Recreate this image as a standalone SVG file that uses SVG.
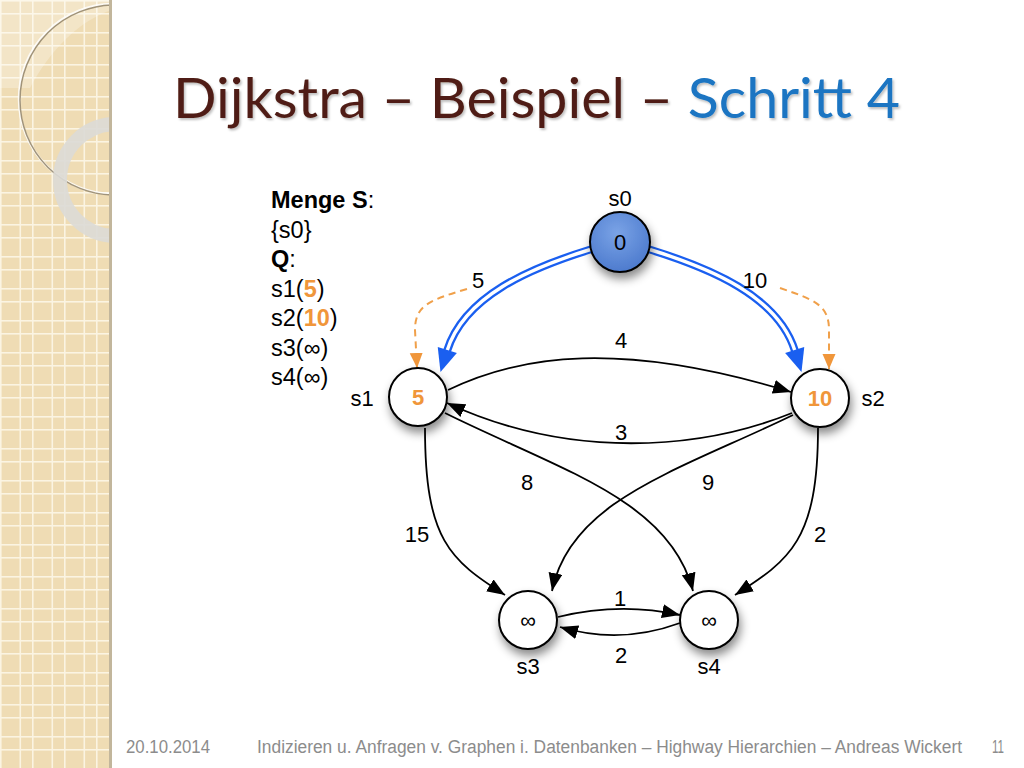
<svg xmlns="http://www.w3.org/2000/svg" width="1024" height="768" viewBox="0 0 1024 768">
<defs>
  <pattern id="grid" x="0" y="0" width="32" height="32" patternUnits="userSpaceOnUse">
    <rect width="32" height="32" fill="#efdcb4"/>
    <rect x="0" y="0" width="1.6" height="32" fill="#fbf4e2"/>
    <rect x="19.5" y="0" width="1.6" height="32" fill="#fbf4e2"/>
    <rect x="0" y="0" width="32" height="1.6" fill="#fbf4e2"/>
    <rect x="0" y="13" width="32" height="1.6" fill="#fbf4e2"/>
  </pattern>
  <clipPath id="strip"><rect x="0" y="0" width="112" height="768"/></clipPath>
  <radialGradient id="blueFill" cx="0.45" cy="0.35" r="0.7">
    <stop offset="0" stop-color="#7aa3e6"/>
    <stop offset="1" stop-color="#4a78cc"/>
  </radialGradient>
  <filter id="shadow" x="-50%" y="-50%" width="200%" height="200%">
    <feDropShadow dx="2" dy="6" stdDeviation="5" flood-color="#000" flood-opacity="0.45"/>
  </filter>
  <filter id="tshadow" x="-5%" y="-20%" width="110%" height="140%">
    <feDropShadow dx="1.5" dy="2" stdDeviation="1.2" flood-color="#000" flood-opacity="0.25"/>
  </filter>
  <marker id="ab" markerUnits="userSpaceOnUse" markerWidth="22" markerHeight="18" refX="18" refY="7" orient="auto">
    <path d="M0,0 L18,7 L0,14 Z" fill="#000"/>
  </marker>
  <marker id="abl" markerUnits="userSpaceOnUse" markerWidth="26" markerHeight="24" refX="1" refY="10" orient="auto" overflow="visible">
    <path d="M0,0 L23,10 L0,20 Z" fill="#1a5ff0"/>
  </marker>
  <marker id="ao" markerUnits="userSpaceOnUse" markerWidth="18" markerHeight="16" refX="15" refY="6.5" orient="auto">
    <path d="M0,0 L15,6.5 L0,13 Z" fill="#f0963a"/>
  </marker>
  <style>
    .lbl { font-family: "Liberation Sans", Arial, sans-serif; font-size: 22px; fill: #000; text-anchor: middle; }
    .edge { fill: none; stroke: #000; stroke-width: 1.8; marker-end: url(#ab); }
    .blueOut { fill: none; stroke: #1a5ff0; stroke-width: 8; }
    .blueIn { fill: none; stroke: #fff; stroke-width: 3.4; marker-end: url(#abl); }
    .dash { fill: none; stroke: #f0a04a; stroke-width: 2; stroke-dasharray: 7 5; marker-end: url(#ao); }
    .node { fill: #fff; stroke: #000; stroke-width: 2; filter: url(#shadow); }
    .menge { font-family: "Liberation Sans", Arial, sans-serif; font-size: 23.5px; fill: #000; }
    .or { fill: #f0963a; font-weight: bold; }
    .foot { font-family: "Liberation Sans", Arial, sans-serif; font-size: 18px; fill: #8c8c8c; }
  </style>
</defs>

<rect width="1024" height="768" fill="#fff"/>

<g id="strip-deco" clip-path="url(#strip)">
  <rect x="0" y="0" width="112" height="768" fill="url(#grid)"/>
  <path d="M0,0 L112,0 L112,10 C80,20 50,50 30,88 L0,88 Z" fill="#fff" opacity="0.25"/>
  <circle cx="114" cy="99" r="95" fill="none" stroke="#fff" stroke-width="2.5" opacity="0.8"/>
  <circle cx="115" cy="100" r="95" fill="none" stroke="#8a7a5e" stroke-width="1.5" opacity="0.8"/>
  <circle cx="116" cy="180" r="56" fill="none" stroke="#dcdad6" stroke-width="14" opacity="0.9"/>
  <rect x="109" y="0" width="3" height="768" fill="#c2b69c"/>
</g>

<g id="title" filter="url(#tshadow)">
  <text x="173" y="118" font-family="Lato, 'Open Sans', sans-serif" font-size="56" textLength="727" lengthAdjust="spacingAndGlyphs"><tspan fill="#4f1f16">Dijkstra – Beispiel – </tspan><tspan fill="#1a74c2">Schritt 4</tspan></text>
</g>

<g id="menge">
  <text class="menge" x="271" y="208"><tspan font-weight="bold">Menge S</tspan>:</text>
  <text class="menge" x="271" y="237.5">{s0}</text>
  <text class="menge" x="271" y="267"><tspan font-weight="bold">Q</tspan>:</text>
  <text class="menge" x="271" y="296.5">s1(<tspan class="or">5</tspan>)</text>
  <text class="menge" x="271" y="326">s2(<tspan class="or">10</tspan>)</text>
  <text class="menge" x="271" y="355.5">s3(∞)</text>
  <text class="menge" x="271" y="385">s4(∞)</text>
</g>

<g id="connectors">
  <path class="blueOut" d="M592,249 C530,268 464,296 447,351"/>
  <path class="blueIn" d="M592,249 C530,268 464,296 447,351"/>
  <path class="blueOut" d="M648,249 C710,268 778,296 795,351"/>
  <path class="blueIn" d="M648,249 C710,268 778,296 795,351"/>
  <path class="dash" d="M467,289 C430,300 415,305 415,330 L417,368"/>
  <path class="dash" d="M780,288 C815,300 829,305 829,330 L829,369"/>
  <path class="edge" d="M448,390 C520,355 620,340 791,392"/>
  <path class="edge" d="M792,413 C700,450 570,460 447,403"/>
  <path class="edge" d="M445,413 C560,470 670,500 693,591"/>
  <path class="edge" d="M793,415 C680,470 570,500 552,591"/>
  <path class="edge" d="M425,428 C425,540 450,560 505,595"/>
  <path class="edge" d="M818,428 C818,540 790,560 735,595"/>
  <path class="edge" d="M558,617 Q620,602 680,615"/>
  <path class="edge" d="M680,623 Q620,645 560,627"/>
  <text class="lbl" x="478" y="288">5</text>
  <text class="lbl" x="755" y="288">10</text>
  <text class="lbl" x="621" y="348">4</text>
  <text class="lbl" x="621" y="440">3</text>
  <text class="lbl" x="527" y="490">8</text>
  <text class="lbl" x="708" y="490">9</text>
  <text class="lbl" x="417" y="542">15</text>
  <text class="lbl" x="820" y="542">2</text>
  <text class="lbl" x="620" y="606">1</text>
  <text class="lbl" x="621" y="663">2</text>
</g>

<g id="s0">
  <circle cx="620" cy="242" r="30" fill="url(#blueFill)" stroke="#000" stroke-width="2" filter="url(#shadow)"/>
  <text class="lbl" x="620" y="250">0</text>
  <text class="lbl" x="620" y="206">s0</text>
</g>
<g id="s1">
  <circle class="node" cx="418" cy="397" r="29"/>
  <text class="lbl or" x="418" y="405">5</text>
  <text class="lbl" x="362" y="406">s1</text>
</g>
<g id="s2">
  <circle class="node" cx="820" cy="398" r="29"/>
  <text class="lbl or" x="820" y="406">10</text>
  <text class="lbl" x="873" y="406">s2</text>
</g>
<g id="s3">
  <circle class="node" cx="528" cy="620" r="29"/>
  <text class="lbl" x="528" y="628" font-size="26">∞</text>
  <text class="lbl" x="528" y="674">s3</text>
</g>
<g id="s4">
  <circle class="node" cx="709" cy="620" r="29"/>
  <text class="lbl" x="709" y="628" font-size="26">∞</text>
  <text class="lbl" x="709" y="674">s4</text>
</g>

<g id="footer">
  <text class="foot" x="126" y="753" textLength="84" lengthAdjust="spacingAndGlyphs">20.10.2014</text>
  <text class="foot" x="257" y="753" textLength="705" lengthAdjust="spacingAndGlyphs">Indizieren u. Anfragen v. Graphen i. Datenbanken – Highway Hierarchien –  Andreas Wickert</text>
  <text class="foot" x="992" y="753" textLength="12" lengthAdjust="spacingAndGlyphs">11</text>
</g>
</svg>
